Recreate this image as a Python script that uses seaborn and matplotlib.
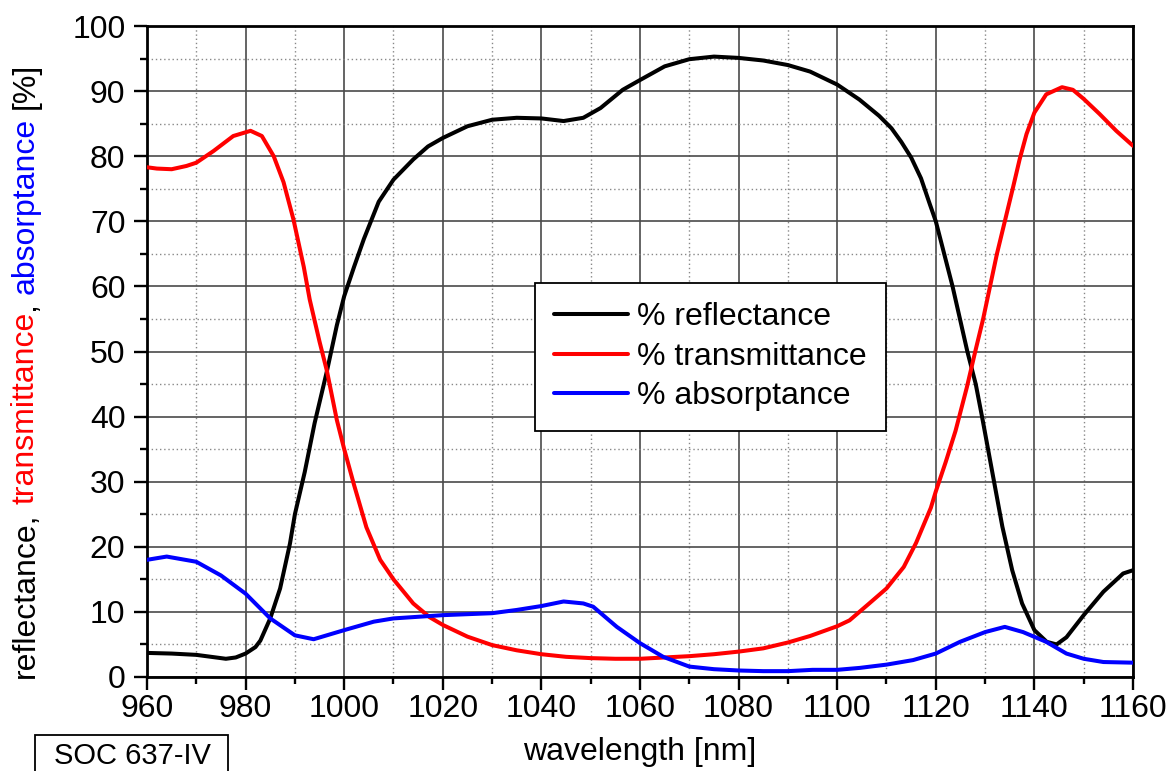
import pandas as pd
import matplotlib
matplotlib.use("Agg")
import matplotlib.pyplot as plt
import seaborn as sns
from matplotlib.patches import Rectangle
from matplotlib.ticker import MultipleLocator

# ---- data ----
refl_nm = [960, 965, 970, 974, 976, 978, 980, 982, 983, 985, 987, 989, 990, 992, 994,
           996.5, 998.5, 1000, 1002, 1004, 1007, 1010, 1014, 1017, 1020, 1025, 1030,
           1035, 1040, 1044.5, 1048.5, 1052, 1056.5, 1060, 1065, 1070, 1075, 1080,
           1085, 1090, 1094.5, 1100, 1104.5, 1108.5, 1111, 1113, 1115, 1117, 1118.8, 1120,
           1123.4, 1126.4, 1128.1, 1129.5, 1131.5, 1133.5, 1135.5, 1137.5, 1140,
           1142.5, 1144.5, 1146.5, 1150, 1154, 1158, 1160]
refl = [3.7, 3.6, 3.4, 3.0, 2.8, 3.0, 3.6, 4.6, 5.6, 9.0, 13.6, 20.5, 25.0, 31.5, 39.0,
        47.0, 54.0, 58.5, 63.0, 67.3, 73.0, 76.4, 79.5, 81.5, 82.8, 84.6, 85.6,
        85.9, 85.8, 85.4, 85.9, 87.4, 90.2, 91.7, 93.8, 94.9, 95.3, 95.1,
        94.7, 94.0, 93.0, 91.0, 88.7, 86.2, 84.3, 82.2, 79.8, 76.6, 72.6, 70.0,
        60.0, 50.0, 45.0, 39.5, 31.3, 23.1, 16.4, 11.3, 7.2,
        5.4, 5.0, 6.1, 9.5, 13.1, 15.9, 16.4]

trans_nm = [960, 962, 965, 968, 970, 973.5, 977.5, 981, 983.3, 985.7, 987.7, 989.7,
            991.8, 993, 995, 996.5, 998.5, 1000, 1002, 1004.5, 1007.3, 1010, 1014,
            1017.3, 1020, 1025, 1030, 1035, 1040, 1045, 1050, 1055, 1060, 1065, 1070,
            1075, 1080, 1085, 1090, 1094.5, 1100, 1102.5, 1106.5, 1110, 1113.5, 1116,
            1119, 1120, 1122, 1124, 1126.3, 1128, 1129.6, 1131, 1132.4, 1134, 1135.6,
            1137, 1138.4, 1140, 1142.4, 1145.6, 1147.8, 1150, 1153.2, 1156.6, 1160]
trans = [78.3, 78.1, 78.0, 78.5, 79.0, 80.8, 83.1, 83.9, 83.1, 80.0, 76.0, 70.3,
         63.0, 58.0, 51.5, 47.0, 39.5, 35.0, 29.5, 23.0, 18.0, 15.0, 11.3,
         9.2, 8.0, 6.2, 4.9, 4.1, 3.5, 3.1, 2.9, 2.8, 2.8, 3.0, 3.2,
         3.5, 3.9, 4.4, 5.3, 6.3, 7.8, 8.7, 11.3, 13.6, 16.9, 20.6,
         26.0, 28.5, 33.0, 37.8, 44.5, 50.0, 55.0, 60.0, 65.0, 70.0, 75.0,
         79.5, 83.4, 86.7, 89.5, 90.6, 90.2, 88.8, 86.5, 83.9, 81.6]

absorb_nm = [960, 964, 970, 975, 980, 985, 990, 993.8, 1000, 1006, 1010, 1020, 1030,
             1035, 1040, 1044.5, 1048.5, 1050.5, 1055.3, 1060, 1064.7, 1070, 1075,
             1080, 1085, 1090, 1095, 1100, 1104.6, 1110, 1115.4, 1120, 1124.9, 1130,
             1134, 1137.7, 1142.4, 1146.5, 1150, 1154, 1160]
absorb = [18.0, 18.5, 17.7, 15.6, 12.8, 9.0, 6.4, 5.8, 7.2, 8.5, 9.0, 9.5, 9.8,
          10.3, 10.9, 11.6, 11.3, 10.8, 7.7, 5.2, 3.1, 1.6, 1.2,
          1.0, 0.9, 0.9, 1.1, 1.1, 1.4, 1.9, 2.6, 3.6, 5.4, 6.9,
          7.7, 6.9, 5.4, 3.6, 2.8, 2.3, 2.2]

labels = ["% reflectance", "% transmittance", "% absorptance"]
colors = ["black", "#ff0000", "#0000ff"]

df = pd.concat([
    pd.DataFrame({"wavelength": refl_nm, "value": refl, "series": labels[0]}),
    pd.DataFrame({"wavelength": trans_nm, "value": trans, "series": labels[1]}),
    pd.DataFrame({"wavelength": absorb_nm, "value": absorb, "series": labels[2]}),
])

sns.set_theme(style="white")
plt.rcParams["font.family"] = ["Liberation Sans", "DejaVu Sans"]
plt.rcParams["text.color"] = "black"
plt.rcParams["xtick.color"] = "black"
plt.rcParams["ytick.color"] = "black"
plt.rcParams["axes.labelcolor"] = "black"

FS = 23
W, H = 1174, 771
fig = plt.figure(figsize=(W / 100, H / 100), dpi=100)
ax = fig.add_axes([147 / W, 1 - 677 / H, (1133 - 147) / W, (677 - 26) / H])

sns.lineplot(data=df, x="wavelength", y="value", hue="series", palette=dict(zip(labels, colors)),
             estimator=None, sort=True, ax=ax, zorder=3)
for ln in ax.lines:
    ln.set_linewidth(2.9)
    ln.set_solid_joinstyle("round")

ax.set_xlim(960, 1160)
ax.set_ylim(0, 100)
ax.xaxis.set_major_locator(MultipleLocator(20))
ax.xaxis.set_minor_locator(MultipleLocator(10))
ax.yaxis.set_major_locator(MultipleLocator(10))
ax.yaxis.set_minor_locator(MultipleLocator(5))
ax.grid(True, which="major", color="#4a4a4a", lw=1.2, ls="-")
ax.grid(True, which="minor", color="#888888", lw=1.0, ls=(0, (1, 2)))
ax.set_axisbelow(True)

for s in ax.spines.values():
    s.set_color("black")
    s.set_linewidth(2.0)
ax.tick_params(which="both", direction="out", left=True, bottom=True, top=False, right=False,
               color="black", width=1.7)
ax.tick_params(which="major", length=9.5, labelsize=FS, pad=6)
ax.tick_params(which="minor", length=5)
ax.tick_params(axis="x", which="major", pad=3)

ax.set_xlabel("wavelength [nm]", fontsize=FS, va="center")
ax.xaxis.set_label_coords(0.5, (677 - 752) / (677 - 26))
ax.set_ylabel("")

handles, _ = ax.get_legend_handles_labels()
leg = ax.legend(handles[:3], labels, loc="upper left", bbox_to_anchor=(535 / W, 1 - 283 / H),
                bbox_transform=fig.transFigure, fontsize=FS, frameon=True, fancybox=False,
                framealpha=1, edgecolor="black", borderpad=0.6, handlelength=2.3,
                handletextpad=0.3, labelspacing=0.3, borderaxespad=0)
leg.get_frame().set_linewidth(1.3)
for h in leg.get_lines():
    h.set_linewidth(2.9)

# multi-coloured y label, built piece by piece from the bottom up
pieces = [("reflectance,", "black", 0), ("transmittance", "#ff0000", 6.4),
          (",", "black", 0), ("absorptance", "#0000ff", 6.4), ("[%]", "black", 6.4)]
prev = fig.text(26 / W, 1 - 678 / H, pieces[0][0], rotation=90, ha="center", va="bottom",
                fontsize=FS, color=pieces[0][1])
for txt, col, gap in pieces[1:]:
    prev = ax.annotate(txt, xy=(0.5, 1), xycoords=prev, xytext=(0, gap), textcoords="offset points",
                       rotation=90, ha="center", va="bottom", fontsize=FS, color=col,
                       annotation_clip=False)

# sample tag box at lower left
fig.add_artist(Rectangle((35 / W, -0.02), (228 - 35) / W, 0.02 + (771 - 735) / H,
                         transform=fig.transFigure, fill=False, ec="black", lw=1.3))
fig.text(132 / W, 1 - 756 / H, "SOC 637-IV", ha="center", va="center", fontsize=21)

fig.savefig("out.png", dpi=100)
